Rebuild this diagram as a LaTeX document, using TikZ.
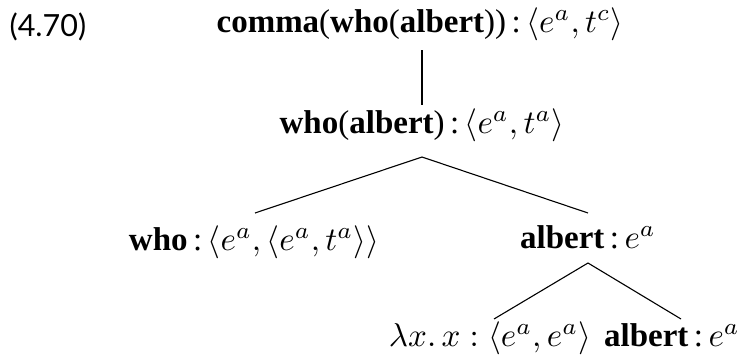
\documentclass[tikz,border=0pt]{standalone}
\usepackage{fontspec}
\setmainfont{Liberation Serif}
\newfontfamily\numfont{Lato}
\begin{document}
\begin{tikzpicture}[x=1pt,y=-1pt,
  lbl/.style={inner sep=0pt, anchor=base, scale=3.3},
  edge/.style={line width=1.1pt, black},
  stem/.style={line width=1.8pt, black}]
\useasboundingbox (0,0) rectangle (747,362);
\node[inner sep=0pt, anchor=base west, scale=3.05] (num) at (9,36) {\numfont (4.70)};
\node[lbl] (root) at (420,32) {\textbf{comma}(\textbf{who}(\textbf{albert}))\,:\,$\langle e^a, t^c\rangle$};
\node[lbl] (wa) at (422,133) {\textbf{who}(\textbf{albert})\,:\,$\langle e^a, t^a\rangle$};
\node[lbl] (who) at (254,250) {\textbf{who}\,:\,$\langle e^a,\langle e^a, t^a\rangle\rangle$};
\node[lbl] (alb) at (588,248) {\textbf{albert}\,:\,$e^a$};
\node[lbl] (lam) at (490,346) {$\lambda x.\,x:\langle e^a, e^a\rangle$};
\node[lbl] (alb2) at (672,346) {\textbf{albert}\,:\,$e^a$};
\coordinate (top) at ([yshift=-18pt]root.base);
\coordinate (ap1) at ([yshift=-24pt]wa.base);
\coordinate (ap2) at ([yshift=-15pt]alb.base);
\draw[stem] (top -| wa.base) -- ([yshift=28pt]wa.base);
\draw[edge] ([xshift=1pt,yshift=37pt]who.base) -- (ap1) -- ([yshift=35pt]alb.base);
\draw[edge] ([xshift=4pt,yshift=27pt]lam.base) -- (ap2) -- ([xshift=9pt,yshift=27pt]alb2.base);
\end{tikzpicture}
\end{document}
